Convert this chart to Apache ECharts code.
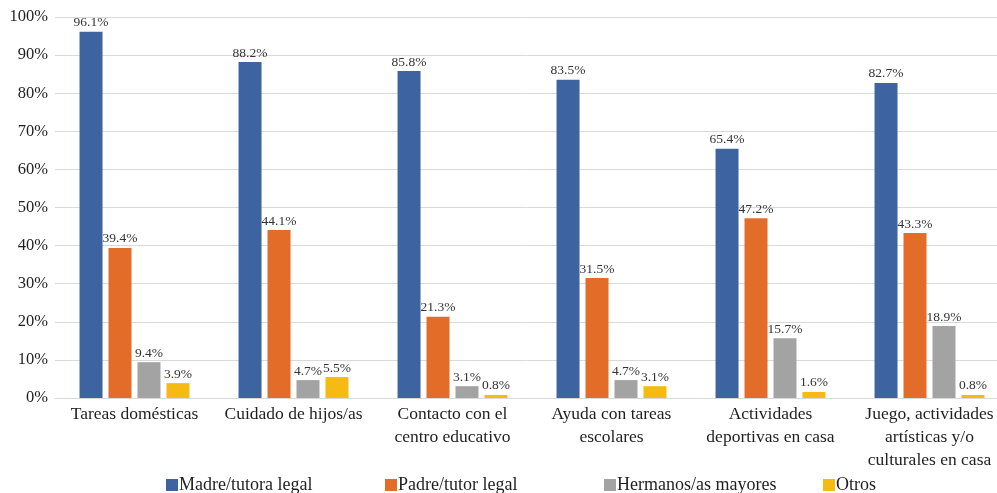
<!DOCTYPE html>
<html>
<head>
<meta charset="utf-8">
<style>
  html, body { margin: 0; padding: 0; background: #fff; }
  #chart { width: 997px; height: 493px; }
</style>
<script src="https://cdn.jsdelivr.net/npm/echarts@6/dist/echarts.min.js"></script>
</head>
<body>
<div id="chart"></div>
<script>
// Categories of household tasks
const categories = [
  'Tareas domésticas',
  'Cuidado de hijos/as',
  'Contacto con el\ncentro educativo',
  'Ayuda con tareas\nescolares',
  'Actividades\ndeportivas en casa',
  'Juego, actividades\nartísticas y/o\nculturales en casa'
];

// Share of each family member, in percent
const madre = [96.1, 88.2, 85.8, 83.5, 65.4, 82.7];
const padre = [39.4, 44.1, 21.3, 31.5, 47.2, 43.3];
const hermanos = [9.4, 4.7, 3.1, 4.7, 15.7, 18.9];
const otros = [3.9, 5.5, 0.8, 3.1, 1.6, 0.8];

const seriesNames = ['Madre/tutora legal', 'Padre/tutor legal', 'Hermanos/as mayores', 'Otros'];
const seriesData = [madre, padre, hermanos, otros];
const colors = ['#3D64A0', '#E36C29', '#A3A3A3', '#F5BA13'];

const FONT = '"Liberation Serif", "DejaVu Serif", serif';
const TEXT = '#1f1f1f';

const chart = echarts.init(document.getElementById('chart'));

const legends = seriesNames.map((name, i) => ({
  data: [name],
  left: 166 + i * 219,
  top: 476,
  itemWidth: 12,
  itemHeight: 12,
  icon: 'rect',
  padding: 0,
  textStyle: {
    fontFamily: FONT,
    fontSize: 18,
    color: TEXT,
    padding: [0, 0, 0, -4]
  }
}));

chart.setOption({
  animation: false,
  color: colors,
  textStyle: { fontFamily: FONT },
  grid: { left: 55, top: 17, bottom: 95, width: 954, outerBoundsMode: 'none', containLabel: false },
  legend: legends,
  xAxis: {
    type: 'category',
    data: categories,
    axisLine: { lineStyle: { color: '#D9D9D9', width: 1 } },
    axisTick: { show: false },
    axisLabel: {
      interval: 0,
      margin: 5,
      fontFamily: FONT,
      fontSize: 17.5,
      lineHeight: 23,
      color: TEXT
    }
  },
  yAxis: {
    type: 'value',
    min: 0,
    max: 100,
    interval: 10,
    axisLine: { show: false },
    axisTick: { show: false },
    splitLine: { lineStyle: { color: '#D9D9D9', width: 1 } },
    axisLabel: {
      formatter: '{value}%',
      margin: 7,
      fontFamily: FONT,
      fontSize: 16.5,
      color: TEXT
    }
  },
  series: seriesNames.map((name, i) => ({
    name: name,
    type: 'bar',
    data: seriesData[i],
    barWidth: 23,
    barGap: '26%',
    label: {
      show: true,
      position: 'top',
      distance: 2,
      formatter: p => p.value.toFixed(1) + '%',
      fontFamily: FONT,
      fontSize: 13.5,
      color: '#333333'
    }
  }))
});
</script>
</body>
</html>
